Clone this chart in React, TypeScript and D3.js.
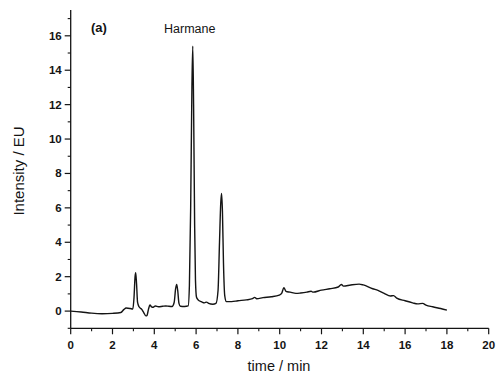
import React from "react";
import * as d3 from "d3";

const times = [0, 0.5, 1.0, 1.5, 2.0, 2.4, 2.55, 2.65, 2.85, 2.97, 3.03, 3.08, 3.11, 3.15, 3.2, 3.27, 3.4, 3.5, 3.6, 3.65, 3.72, 3.79, 3.87, 3.95, 4.05, 4.2, 4.4, 4.55, 4.7, 4.85, 4.95, 5.02, 5.07, 5.12, 5.18, 5.25, 5.45, 5.62, 5.68, 5.74, 5.8, 5.84, 5.88, 5.93, 5.97, 6.02, 6.1, 6.25, 6.4, 6.5, 6.6, 6.8, 6.95, 7.05, 7.12, 7.18, 7.22, 7.26, 7.31, 7.37, 7.45, 7.7, 8.0, 8.4, 8.7, 8.8, 8.9, 9.2, 9.6, 9.98, 10.1, 10.2, 10.3, 10.5, 10.78, 11.0, 11.3, 11.5, 11.6, 12.0, 12.4, 12.8, 12.95, 13.05, 13.4, 13.8, 14.0, 14.45, 14.7, 15.0, 15.3, 15.45, 15.6, 16.0, 16.36, 16.6, 16.84, 17.0, 17.32, 17.7, 18.0];
const intensity = [0, -0.05, -0.12, -0.15, -0.13, -0.08, 0.1, 0.18, 0.15, 0.12, 0.8, 2.0, 2.23, 1.6, 0.5, 0.25, 0.1, -0.1, -0.28, -0.25, 0.1, 0.35, 0.25, 0.22, 0.3, 0.25, 0.28, 0.3, 0.28, 0.27, 0.5, 1.3, 1.55, 1.2, 0.45, 0.28, 0.27, 0.3, 1.5, 6, 13, 15.4, 12, 5, 1.8, 0.8, 0.65, 0.55, 0.48, 0.52, 0.45, 0.4, 0.45, 1.2, 4, 6.3, 6.84, 5.8, 2.8, 0.9, 0.55, 0.55, 0.6, 0.65, 0.72, 0.8, 0.72, 0.78, 0.83, 0.93, 1.05, 1.36, 1.15, 1.1, 1.03, 1.05, 1.1, 1.15, 1.1, 1.22, 1.3, 1.4, 1.55, 1.45, 1.52, 1.57, 1.52, 1.3, 1.2, 1.03, 0.88, 0.9, 0.75, 0.6, 0.48, 0.42, 0.45, 0.35, 0.25, 0.15, 0.06];

const xMajorTicks = [0, 2, 4, 6, 8, 10, 12, 14, 16, 18, 20];
const xMinorTicks = [1, 3, 5, 7, 9, 11, 13, 15, 17, 19];
const yMajorTicks = [0, 2, 4, 6, 8, 10, 12, 14, 16];
const yMinorTicks = [-1, 1, 3, 5, 7, 9, 11, 13, 15, 17];

const panelLabel = "(a)";
const peakLabel = "Harmane";
const xTitle = "time / min";
const yTitle = "Intensity / EU";

export default function App() {
  const x = d3.scaleLinear().domain([0, 20]).range([70.7, 488.7]);
  const y = d3.scaleLinear().domain([-1, 17.5]).range([328.3, 10]);
  const pts = times.map((t, i) => [t, intensity[i]] as [number, number]);
  const line = d3
    .line<[number, number]>()
    .x((d) => x(d[0]))
    .y((d) => y(d[1]))
    .curve(d3.curveMonotoneX);
  const x0 = x(0);
  const yb = y(-1);
  const font = "'Liberation Sans', Arial, sans-serif";
  const ink = "#141414";
  return (
    <svg
      width={496}
      height={376}
      style={{ position: "absolute", left: 0, top: 0, background: "#fff" }}
    >
      <rect x={0} y={0} width={496} height={376} fill="#fff" />
      {/* axes */}
      <line x1={x0} x2={x0} y1={y(17.5)} y2={yb} stroke={ink} strokeWidth={1.3} />
      <line x1={x0} x2={x(20)} y1={yb} y2={yb} stroke={ink} strokeWidth={1.3} />
      {xMajorTicks.map((t) => (
        <g key={"xm" + t}>
          <line x1={x(t)} x2={x(t)} y1={yb} y2={yb + 6} stroke={ink} strokeWidth={1.2} />
          <text
            x={x(t)}
            y={yb + 21}
            textAnchor="middle"
            fontFamily={font}
            fontWeight="bold"
            fontSize={11.5}
            fill={ink}
          >
            {t}
          </text>
        </g>
      ))}
      {xMinorTicks.map((t) => (
        <line key={"xn" + t} x1={x(t)} x2={x(t)} y1={yb} y2={yb + 3} stroke={ink} strokeWidth={1.1} />
      ))}
      {yMajorTicks.map((t) => (
        <g key={"ym" + t}>
          <line x1={x0 - 6} x2={x0} y1={y(t)} y2={y(t)} stroke={ink} strokeWidth={1.2} />
          <text
            x={x0 - 9}
            y={y(t) + 4}
            textAnchor="end"
            fontFamily={font}
            fontWeight="bold"
            fontSize={11.5}
            fill={ink}
          >
            {t}
          </text>
        </g>
      ))}
      {yMinorTicks.map((t) => (
        <line key={"yn" + t} x1={x0 - 3} x2={x0} y1={y(t)} y2={y(t)} stroke={ink} strokeWidth={1.1} />
      ))}
      {/* data */}
      <path d={line(pts) || ""} fill="none" stroke={ink} strokeWidth={1.4} strokeLinejoin="round" />
      {/* labels */}
      <text x={91} y={32} fontFamily={font} fontWeight="bold" fontSize={13} fill={ink}>
        {panelLabel}
      </text>
      <text x={164} y={33} fontFamily={font} fontSize={12.5} fill={ink}>
        {peakLabel}
      </text>
      <text
        x={279}
        y={371}
        textAnchor="middle"
        fontFamily={font}
        fontSize={14.5}
        fill={ink}
      >
        {xTitle}
      </text>
      <text
        transform={`translate(24,171) rotate(-90)`}
        textAnchor="middle"
        fontFamily={font}
        fontSize={15}
        fill={ink}
      >
        {yTitle}
      </text>
    </svg>
  );
}
